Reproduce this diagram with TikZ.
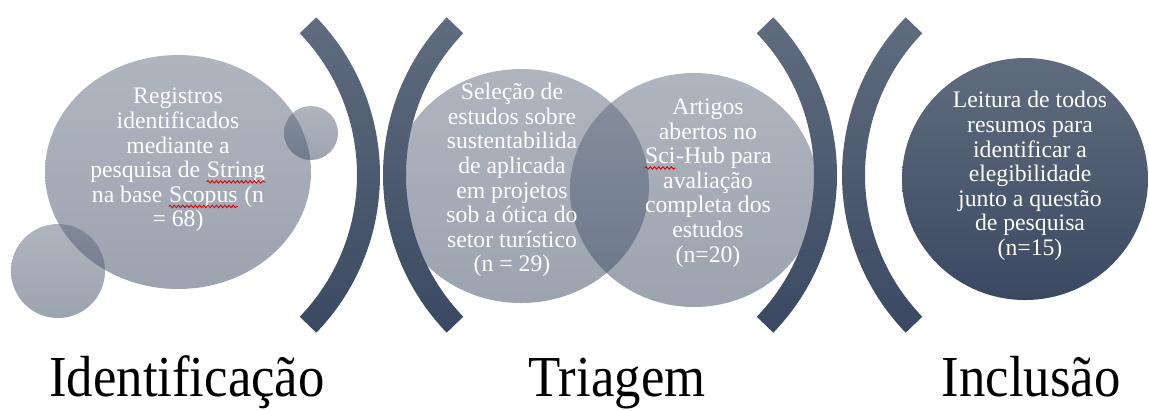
\documentclass[tikz,border=0pt]{standalone}
\usepackage{fontspec}
\setmainfont{Liberation Serif}
\usepackage{graphicx}
\usetikzlibrary{positioning,calc,decorations.pathmorphing}

\definecolor{slatetop}{RGB}{96,108,126}
\definecolor{slatebot}{RGB}{58,73,98}

% red spell-check wave under a word
\newcommand\redwave[1]{\tikz[baseline=(w.base)]{\node[inner sep=0pt] (w) {#1};
    \draw[red!85!black, line width=0.5pt, decorate, decoration={snake, amplitude=0.7pt, segment length=2.4pt}]
      ([yshift=-2.4pt]w.base west) -- ([yshift=-2.4pt]w.base east);}}

\tikzset{
  bubble/.style={top color=slatetop, bottom color=slatebot, fill opacity=0.5},
  solidbubble/.style={top color=slatetop, bottom color=slatebot},
  bracket/.style={top color=slatetop, bottom color=slatebot},
  boxtext/.style={text=white, align=center, inner sep=0pt, font=\fontsize{13.5}{14}\selectfont},
  phase/.style={inner sep=0pt, anchor=base, font=\fontsize{33}{36}\selectfont},
}

\begin{document}
\begin{tikzpicture}[x=0.02cm, y=-0.02cm]
    \useasboundingbox (0,0) rectangle (1149,410);

    % Identificacao
    \shade[bubble] (178,172) ellipse [x radius=133, y radius=117];
    \shade[bubble] (311,133) circle [radius=27];
    \shade[bubble] (58,271) circle [radius=47];

    % Triagem
    \shade[bubble] (521,186) ellipse [x radius=128, y radius=117];
    \shade[bubble] (694,190) ellipse [x radius=124, y radius=117];

    % Inclusao
    \shade[solidbubble] (1025,179) ellipse [x radius=123, y radius=121];

    % brackets
    \shade[bracket] (153,175) ++(-44:227) arc[start angle=-44, end angle=44, radius=227]
        -- ($(153,175)+(44:204)$) arc[start angle=44, end angle=-44, radius=204] -- cycle;
    \shade[bracket] (610,175) ++(136:227) arc[start angle=136, end angle=224, radius=227]
        -- ($(610,175)+(224:204)$) arc[start angle=224, end angle=136, radius=204] -- cycle;
    \shade[bracket] (610,175) ++(-44:227) arc[start angle=-44, end angle=44, radius=227]
        -- ($(610,175)+(44:204)$) arc[start angle=44, end angle=-44, radius=204] -- cycle;
    \shade[bracket] (1069,175) ++(136:227) arc[start angle=136, end angle=224, radius=227]
        -- ($(1069,175)+(224:204)$) arc[start angle=224, end angle=136, radius=204] -- cycle;

    % texts
    \node[boxtext] (registros) at (178,160) {Registros\\identificados\\mediante a\\pesquisa de \redwave{String}\\na base \redwave{Scopus} (n\\= 68)};
    \node[boxtext] (selecao) at (512,180) {Seleção de\\estudos sobre\\sustentabilida\\de aplicada\\em projetos\\sob a ótica do\\setor turístico\\(n = 29)};
    \node[boxtext] (artigos) at (708,183) {Artigos\\abertos no\\\redwave{Sci}-Hub para\\avaliação\\completa dos\\estudos\\(n=20)};
    \node[boxtext] (leitura) at (1030,176) {Leitura de todos\\resumos para\\identificar a\\elegibilidade\\junto a questão\\de pesquisa\\(n=15)};

    \node[phase] (ident) at (187,396) {\scalebox{0.91}[1]{Identificação}};
    \node[phase] (triagem) at (617,396) {\scalebox{0.91}[1]{Triagem}};
    \node[phase] (inclusao) at (1031,396) {\scalebox{0.91}[1]{Inclusão}};
\end{tikzpicture}
\end{document}
